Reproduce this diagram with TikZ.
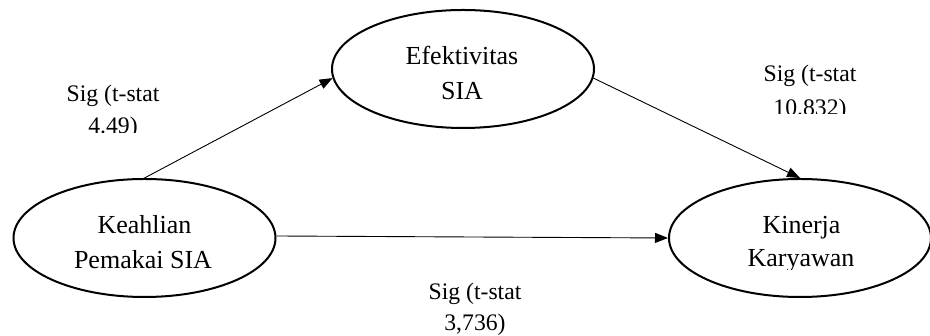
\documentclass[tikz,border=0pt]{standalone}
\usepackage{fontspec}
\setmainfont{Liberation Serif}
\usetikzlibrary{shapes.geometric,arrows.meta}

\begin{document}
\begin{tikzpicture}[x=1pt,y=1pt,
  construct/.style={ellipse,draw,line width=2pt,minimum width=262pt,minimum height=118pt,inner sep=0pt},
  nametext/.style={anchor=base,inner sep=0pt,font=\fontsize{26}{30}\selectfont},
  sigtext/.style={anchor=base,inner sep=0pt,font=\fontsize{23.7}{28}\selectfont},
  path/.style={line width=0.9pt,-{Triangle[length=13pt,width=10pt]}}]

\useasboundingbox (0,0) rectangle (930,336);

% latent constructs
\node[construct] (keahlian) at (144.5,98) {};
\node[construct] (efek) at (463,267) {};
\node[construct] (kinerja) at (800,98) {};

% construct names
\node[nametext] (k1) at (144.5,102) {Keahlian};
\node[nametext] (k2) at (143,67) {Pemakai SIA};
\node[nametext] (e1) at (462,271) {Efektivitas};
\node[nametext] (e2) at (462,236) {SIA};
\node[nametext] (n1) at (801.5,102.7) {Kinerja};
\begin{scope}
  \clip (660,66) rectangle (930,90);
  \node[nametext] (n2) at (801,69) {Karyawan};
\end{scope}

% structural paths
\draw[path] (keahlian.north) -- (efek.184);
\draw[path] (efek.356) -- (kinerja.north);
\draw[path] ([yshift=2pt]keahlian.east) -- (kinerja.west);

% path coefficients
\node[sigtext] (s1a) at (113,234) {Sig (t-stat};
\begin{scope}
  \clip (40,203) rectangle (190,225);
  \node[sigtext] (s1b) at (113,202) {4.49)};
\end{scope}
\node[sigtext] (s2a) at (810,254) {Sig (t-stat};
\begin{scope}
  \clip (740,222) rectangle (880,245);
  \node[sigtext] (s2b) at (810,220.5) {10.832)};
\end{scope}
\node[sigtext] (s3a) at (475,36) {Sig (t-stat};
\node[sigtext] (s3b) at (475,5.5) {3,736)};

\end{tikzpicture}
\end{document}
